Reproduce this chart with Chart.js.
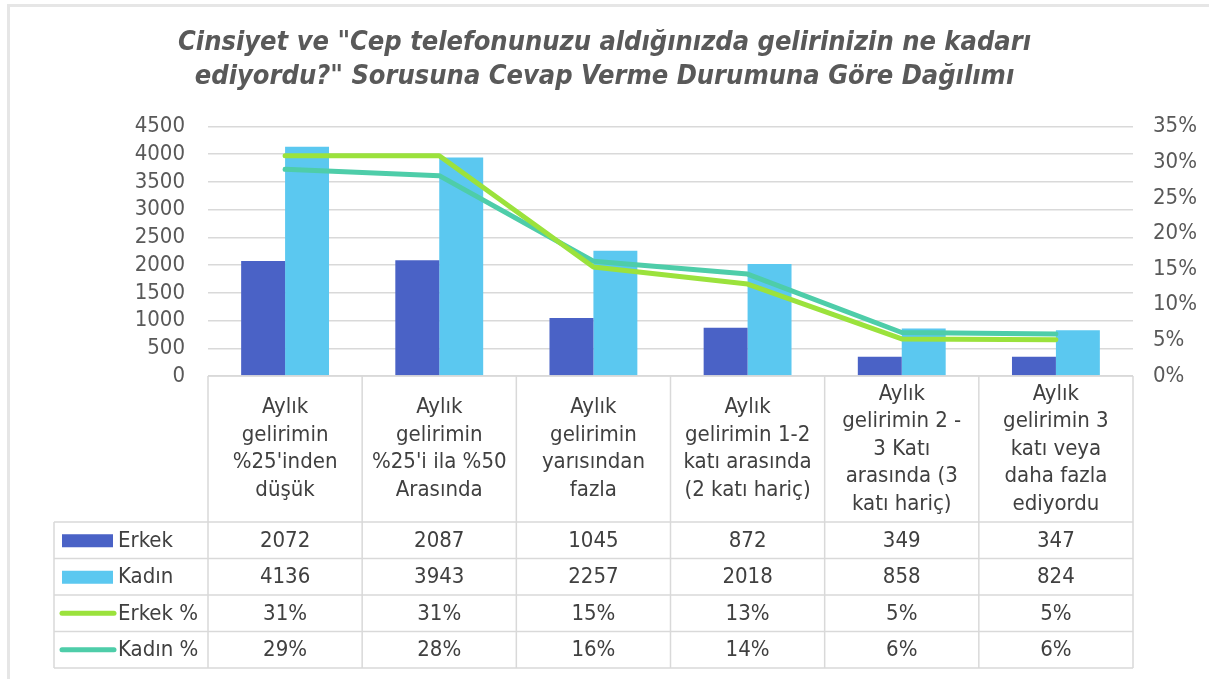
<!DOCTYPE html>
<html>
<head>
<meta charset="utf-8">
<script src="https://cdn.jsdelivr.net/npm/chart.js@4/dist/chart.umd.min.js"></script>
<style>
  html, body { margin: 0; padding: 0; background: #fff; }
  #wrap { position: relative; width: 1209px; height: 679px; overflow: hidden; }
  #frame { position: absolute; left: 7px; top: 4px; width: 1300px; height: 800px;
           border-left: 3px solid #e6e6e6; border-top: 3px solid #e6e6e6; pointer-events: none; }
</style>
</head>
<body>
<div id="wrap">
  <canvas id="myChart" width="1209" height="679"></canvas>
  <div id="frame"></div>
</div>
<script>
const categories = [
  ['Aylık', 'gelirimin', "%25'inden", 'düşük'],
  ['Aylık', 'gelirimin', "%25'i ila %50", 'Arasında'],
  ['Aylık', 'gelirimin', 'yarısından', 'fazla'],
  ['Aylık', 'gelirimin 1-2', 'katı arasında', '(2 katı hariç)'],
  ['Aylık', 'gelirimin 2 -', '3 Katı', 'arasında (3', 'katı hariç)'],
  ['Aylık', 'gelirimin 3', 'katı veya', 'daha fazla', 'ediyordu']
];
const erkek = [2072, 2087, 1045, 872, 349, 347];
const kadin = [4136, 3943, 2257, 2018, 858, 824];
const erkekPct = [30.9, 30.9, 15.3, 12.9, 5.2, 5.1];
const kadinPct = [29.0, 28.1, 16.1, 14.3, 6.1, 5.9];
const countTicks = {min: 0, max: 4500, step: 500};
const pctTicks = {min: 0, max: 35, step: 5};

const textColor = '#595959';
const gridColor = '#d9d9d9';
const font = 'DejaVu Sans Condensed';

// data table drawn under the plot, columns follow the x scale
const tablePlugin = {
  id: 'dataTable',
  afterDraw(chart) {
    const ctx = chart.ctx;
    const x = chart.scales.x;
    const area = chart.chartArea;
    const colW = (area.right - area.left) / categories.length;
    const top = area.bottom;
    const headerBottom = top + 146;
    const rowH = 36.5;
    const legendLeft = 54;
    const rows = [
      {label: 'Erkek', values: erkek.map(String), color: '#4a62c6', kind: 'box'},
      {label: 'Kadın', values: kadin.map(String), color: '#5bc8f0', kind: 'box'},
      {label: 'Erkek %', values: erkekPct.map(v => Math.round(v) + '%'), color: '#9be23c', kind: 'line'},
      {label: 'Kadın %', values: kadinPct.map(v => Math.round(v) + '%'), color: '#4ecda9', kind: 'line'}
    ];
    const bottom = headerBottom + rowH * rows.length;

    ctx.save();
    ctx.strokeStyle = gridColor;
    ctx.lineWidth = 1.5;
    ctx.beginPath();
    ctx.moveTo(area.left, top); ctx.lineTo(area.right, top);
    for (let r = 0; r <= rows.length; r++) {
      const yy = headerBottom + rowH * r;
      ctx.moveTo(legendLeft, yy); ctx.lineTo(area.right, yy);
    }
    for (let c = 0; c <= categories.length; c++) {
      const xx = area.left + colW * c;
      ctx.moveTo(xx, top); ctx.lineTo(xx, bottom);
    }
    ctx.moveTo(legendLeft, headerBottom); ctx.lineTo(legendLeft, bottom);
    ctx.stroke();

    ctx.fillStyle = '#404040';
    ctx.font = '22px "' + font + '"';
    ctx.textAlign = 'center';
    ctx.textBaseline = 'middle';
    const lh = 27.5;
    const hc = (top + headerBottom) / 2;
    categories.forEach((lines, i) => {
      const cx = x.getPixelForValue(i);
      const y0 = hc - (lines.length - 1) * lh / 2;
      lines.forEach((t, k) => ctx.fillText(t, cx, y0 + k * lh));
    });

    rows.forEach((row, r) => {
      const cy = headerBottom + rowH * r + rowH / 2;
      ctx.fillStyle = '#404040';
      ctx.textAlign = 'center';
      row.values.forEach((v, i) => ctx.fillText(v, x.getPixelForValue(i), cy + 1));
      ctx.textAlign = 'left';
      ctx.fillText(row.label, 118, cy + 1);
      if (row.kind === 'box') {
        ctx.fillStyle = row.color;
        ctx.fillRect(62, cy - 6, 51, 13);
      } else {
        ctx.strokeStyle = row.color;
        ctx.lineWidth = 5;
        ctx.lineCap = 'round';
        ctx.beginPath();
        ctx.moveTo(62, cy); ctx.lineTo(114, cy);
        ctx.stroke();
      }
    });
    ctx.restore();
  }
};

const data = {
  labels: categories,
  datasets: [
    {
      type: 'line', label: 'Erkek %', data: erkekPct, yAxisID: 'y1', order: 0,
      borderColor: '#9be23c', borderWidth: 5, pointRadius: 0, tension: 0,
      borderCapStyle: 'round', borderJoinStyle: 'round'
    },
    {
      type: 'line', label: 'Kadın %', data: kadinPct, yAxisID: 'y1', order: 1,
      borderColor: '#4ecda9', borderWidth: 5, pointRadius: 0, tension: 0,
      borderCapStyle: 'round', borderJoinStyle: 'round'
    },
    {
      type: 'bar', label: 'Erkek', data: erkek, yAxisID: 'y', order: 2,
      backgroundColor: '#4a62c6', categoryPercentage: 0.57, barPercentage: 1.0
    },
    {
      type: 'bar', label: 'Kadın', data: kadin, yAxisID: 'y', order: 2,
      backgroundColor: '#5bc8f0', categoryPercentage: 0.57, barPercentage: 1.0
    }
  ]
};

const config = {
  type: 'bar',
  data: data,
  options: {
    responsive: false,
    animation: false,
    layout: {padding: {left: 0, right: 0, top: 0, bottom: 303}},
    plugins: {
      legend: {display: false},
      tooltip: {enabled: false},
      title: {
        display: true,
        text: ['Cinsiyet ve "Cep telefonunuzu aldığınızda gelirinizin ne kadarı',
               'ediyordu?" Sorusuna Cevap Verme Durumuna Göre Dağılımı'],
        color: textColor,
        font: {family: 'DejaVu Sans Condensed', size: 27, weight: 'bold', style: 'italic', lineHeight: 1.25},
        padding: {top: 26, bottom: 33}
      }
    },
    scales: {
      x: {display: false},
      y: {
        position: 'left',
        min: countTicks.min, max: countTicks.max,
        ticks: {stepSize: countTicks.step, autoSkip: false, color: textColor, padding: 23,
                font: {family: font, size: 22}, callback: v => String(v)},
        grid: {color: gridColor, lineWidth: 1.5, drawTicks: false},
        border: {display: false},
        afterFit(scale) { scale.width = 208; }
      },
      y1: {
        position: 'right',
        min: pctTicks.min, max: pctTicks.max,
        ticks: {stepSize: pctTicks.step, autoSkip: false, color: textColor, padding: 20,
                font: {family: font, size: 22}, callback: v => v + '%'},
        grid: {drawOnChartArea: false, drawTicks: false},
        border: {display: false},
        afterFit(scale) { scale.width = 76; }
      }
    }
  },
  plugins: [tablePlugin]
};

var myChart = new Chart(document.getElementById('myChart'), config);
</script>
</body>
</html>
